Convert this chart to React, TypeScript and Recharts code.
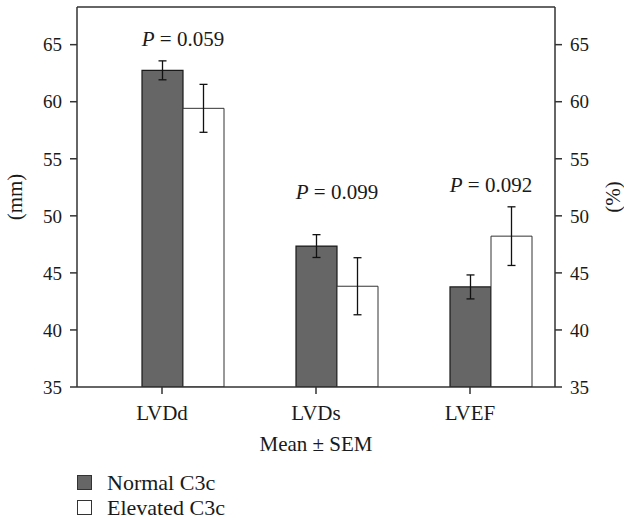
import React from 'react';
import {
  ComposedChart,
  Bar,
  XAxis,
  YAxis,
  ErrorBar,
  LabelList,
  Legend,
  ReferenceLine,
} from 'recharts';

// values (mean ± SEM)
const categories = ['LVDd', 'LVDs', 'LVEF'];
const normalMean = [62.75, 47.35, 43.77];
const normalSem = [0.83, 1.0, 1.05];
const elevatedMean = [59.42, 43.83, 48.22];
const elevatedSem = [2.1, 2.5, 2.57];
const pValues = ['0.059', '0.099', '0.092'];
const pLabelAt = [65.5, 52.1, 52.7];
const yTicks = [35, 40, 45, 50, 55, 60, 65];

const Y_MIN = 35;
const Y_MAX = 68.3;
const FONT = 'Liberation Serif, Times New Roman, DejaVu Serif, serif';
const INK = '#1a1a1a';
const AXIS = '#333';

const data = categories.map((name, i) => ({
  name,
  normal: normalMean[i],
  normalSem: normalSem[i],
  elevated: elevatedMean[i],
  elevatedSem: elevatedSem[i],
  pText: pValues[i],
}));

const yTickStyle = { fill: INK, fontSize: 19, fontFamily: FONT };
const xTickStyle = { fill: INK, fontSize: 21, fontFamily: FONT };

// P label sits over the boundary between the two bars of a group
const renderPLabel = (props: any) => {
  const vb = props.viewBox || props;
  const i = props.index;
  const ppu = vb.height / (elevatedMean[i] - Y_MIN);
  const y = vb.y - (pLabelAt[i] - elevatedMean[i]) * ppu;
  return (
    <text
      x={vb.x}
      y={y}
      textAnchor="middle"
      dominantBaseline="central"
      fill={INK}
      fontSize={21}
      style={{ fontFamily: FONT }}
    >
      <tspan fontStyle="italic">P</tspan>
      <tspan> = {props.value}</tspan>
    </text>
  );
};

const axisTitle = (text: string, dx: number) => (props: any) => {
  const vb = props.viewBox;
  const x = vb.x + dx;
  const y = vb.y + vb.height / 2;
  return (
    <text
      x={x}
      y={y}
      transform={`rotate(-90, ${x}, ${y})`}
      textAnchor="middle"
      dominantBaseline="central"
      fill={INK}
      fontSize={21}
      style={{ fontFamily: FONT }}
    >
      {text}
    </text>
  );
};

const LegendBox = () => (
  <div style={{ height: 52, paddingLeft: 77, paddingTop: 2, boxSizing: 'border-box', fontFamily: FONT, fontSize: 22, color: INK }}>
    {[
      { label: 'Normal C3c', fill: '#666666' },
      { label: 'Elevated C3c', fill: '#ffffff' },
    ].map((e) => (
      <div key={e.label} style={{ height: 25, display: 'flex', alignItems: 'center' }}>
        <span
          style={{
            display: 'inline-block',
            width: 13,
            height: 13,
            background: e.fill,
            border: `1px solid ${AXIS}`,
            marginRight: 15,
          }}
        />
        <span>{e.label}</span>
      </div>
    ))}
  </div>
);

export default function App() {
  return (
    <div style={{ position: 'absolute', left: 0, top: 0, background: '#fff', fontFamily: FONT }}>
      <ComposedChart
        width={624}
        height={520}
        data={data}
        margin={{ top: 7, right: 0, bottom: 0, left: 0 }}
        barCategoryGap={16}
        barGap={0}
        style={{ fontFamily: FONT }}
      >
        <XAxis
          dataKey="name"
          height={81}
          padding={{ left: 8, right: 8 }}
          tick={xTickStyle}
          tickSize={7}
          tickMargin={11}
          tickLine={{ stroke: AXIS, strokeWidth: 1.5 }}
          axisLine={{ stroke: AXIS, strokeWidth: 1.5 }}
          label={{ value: 'Mean ± SEM', position: 'insideBottom', offset: 17, fill: INK, fontSize: 21, fontFamily: FONT }}
        />
        <YAxis
          yAxisId="left"
          width={77}
          domain={[Y_MIN, Y_MAX]}
          ticks={yTicks}
          allowDataOverflow
          tick={yTickStyle}
          tickSize={7}
          tickMargin={8}
          tickLine={{ stroke: AXIS, strokeWidth: 1.5 }}
          axisLine={{ stroke: AXIS, strokeWidth: 1.5 }}
          label={{ content: axisTitle('(mm)', 15) }}
        />
        <YAxis
          yAxisId="right"
          orientation="right"
          width={69}
          domain={[Y_MIN, Y_MAX]}
          ticks={yTicks}
          allowDataOverflow
          tick={yTickStyle}
          tickSize={7}
          tickMargin={8}
          tickLine={{ stroke: AXIS, strokeWidth: 1.5 }}
          axisLine={{ stroke: AXIS, strokeWidth: 1.5 }}
          label={{ content: axisTitle('(%)', 58) }}
        />
        <ReferenceLine yAxisId="left" y={Y_MAX} stroke={AXIS} strokeWidth={1.5} />
        <Legend verticalAlign="bottom" align="left" content={<LegendBox />} />

        {/* empty slot so the category tick lands on the centre of the dark bar */}
        <Bar yAxisId="left" dataKey="spacer" fill="none" legendType="none" isAnimationActive={false} />
        <Bar
          yAxisId="left"
          dataKey="normal"
          name="Normal C3c"
          fill="#666666"
          stroke="#1a1a1a"
          strokeWidth={1.2}
          isAnimationActive={false}
        >
          <ErrorBar dataKey="normalSem" width={4} stroke="#111" strokeWidth={1.3} isAnimationActive={false} />
        </Bar>
        <Bar
          yAxisId="left"
          dataKey="elevated"
          name="Elevated C3c"
          fill="#ffffff"
          stroke="#333"
          strokeWidth={1}
          isAnimationActive={false}
        >
          <ErrorBar dataKey="elevatedSem" width={4} stroke="#111" strokeWidth={1.3} isAnimationActive={false} />
          <LabelList dataKey="pText" content={renderPLabel} />
        </Bar>
      </ComposedChart>
    </div>
  );
}
